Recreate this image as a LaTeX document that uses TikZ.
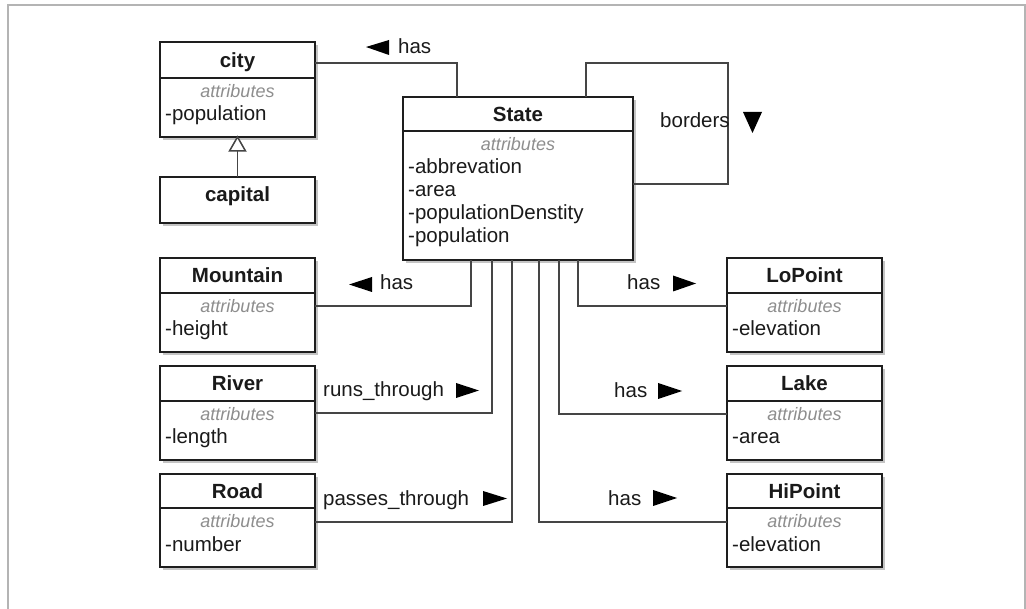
\documentclass[tikz,border=0pt]{standalone}
\usepackage{fontspec}
\setmainfont{Liberation Sans}

\definecolor{boxline}{HTML}{1E1E1E}
\definecolor{connline}{HTML}{454545}
\definecolor{attrgray}{HTML}{8E8E8E}
\definecolor{framegray}{HTML}{B4B4B4}
\definecolor{shadowgray}{HTML}{C4C4C4}
\definecolor{inktext}{HTML}{1A1A1A}

\tikzset{
  classbox/.style={draw=boxline, line width=2pt, fill=white, inner sep=0pt, outer sep=0pt, anchor=north west},
  divider/.style={draw=boxline, line width=1.6pt},
  boxshadow/.style={fill=shadowgray},
  classname/.style={font=\fontsize{20.5}{23}\selectfont\bfseries, text=inktext, inner sep=0pt, anchor=base},
  stereo/.style={font=\fontsize{18}{21}\selectfont\itshape, text=attrgray, inner sep=0pt, anchor=base},
  attr/.style={font=\fontsize{20.5}{23}\selectfont, text=inktext, inner sep=0pt, anchor=base west},
  assoc/.style={draw=connline, line width=1.5pt},
  genhead/.style={draw=connline, line width=1.5pt, fill=white, line join=miter},
  rolelabel/.style={font=\fontsize{20.5}{23}\selectfont, text=inktext, inner sep=0pt, anchor=base west},
  navmark/.style={fill=black},
}

% class box: name, left, top, right, divider y, bottom, title, attribute list
\newcommand\umlclass[8]{%
  \fill[boxshadow] (#2+3,#3+3) rectangle (#4+3,#6+3);
  \node[classbox, minimum width=#4pt-#2pt, minimum height=#6pt-#3pt] (#1) at (#2,#3) {};
  \draw[divider] (#1.west |- 0,#5) -- (#1.east |- 0,#5);
  \node[classname] (#1-name) at ({(#2+#4)/2}, {(#3+#5)/2+7.5}) {#7};
  \node[stereo] (#1-stereo) at ({(#2+#4)/2}, #5+20) {attributes};
  \foreach \a [count=\i] in {#8} {\node[attr] (#1-attr\i) at (#2+5, #5+20+23*\i) {\a};}
}

\begin{document}
\begin{tikzpicture}[x=1pt, y=-1pt]
  \useasboundingbox (0,0) rectangle (1026,609);
  \fill[white] (0,0) rectangle (1026,609);
  \draw[framegray, line width=1.5pt] (8,609) -- (8,5) -- (1025,5) -- (1025,609);

  % classes
  \umlclass{city}{160}{42}{315}{78}{137}{city}{-population}
  \fill[boxshadow] (163,180) rectangle (318,226);
  \node[classbox, minimum width=155pt, minimum height=46pt] (capital) at (160,177) {};
  \node[classname] (capital-name) at (237.5,202) {capital};

  \umlclass{state}{403}{97}{633}{131}{260}{State}{-abbrevation,-area,-populationDenstity,-population}

  \umlclass{mountain}{160}{258}{315}{293}{352}{Mountain}{-height}
  \umlclass{river}{160}{366}{315}{401}{460}{River}{-length}
  \umlclass{road}{160}{474}{315}{508}{567}{Road}{-number}

  \umlclass{lopoint}{727}{258}{882}{293}{352}{LoPoint}{-elevation}
  \umlclass{lake}{727}{366}{882}{401}{460}{Lake}{-area}
  \umlclass{hipoint}{727}{474}{882}{508}{567}{HiPoint}{-elevation}

  % generalization capital -> city (hollow triangle head)
  \draw[assoc, shorten >=14pt] (capital.north) -- (city.south);
  \draw[genhead] (city.south) -- ++(-8,14) -- ++(16,0) -- cycle;

  % associations
  \draw[assoc] (city.east |- 0,63) -| (state.north -| 457,0);
  \draw[assoc] (state.north -| 586,0) |- (728,63) |- (state.east |- 0,184);
  \draw[assoc] (state.south -| 471,0) |- (mountain.east |- 0,306);
  \draw[assoc] (state.south -| 492,0) |- (river.east |- 0,413);
  \draw[assoc] (state.south -| 512,0) |- (road.east |- 0,522);
  \draw[assoc] (state.south -| 578,0) |- (lopoint.west |- 0,306);
  \draw[assoc] (state.south -| 559,0) |- (lake.west |- 0,414);
  \draw[assoc] (state.south -| 539,0) |- (hipoint.west |- 0,522);

  % association names with reading direction
  \node[rolelabel] (has-city) at (398,54) {has};
  \fill[navmark] (366,47) -- (389,40) -- (389,55) -- cycle;

  \node[rolelabel] (borders) at (660,128) {borders};
  \fill[navmark] (743,112) -- (762,112) -- (752.5,133) -- cycle;

  \node[rolelabel] (has-mountain) at (380,290) {has};
  \fill[navmark] (349,284.5) -- (372,277) -- (372,292) -- cycle;

  \node[rolelabel] (runs) at (323,397) {runs\_through};
  \fill[navmark] (456,383) -- (456,398) -- (479,390.5) -- cycle;

  \node[rolelabel] (passes) at (323,505) {passes\_through};
  \fill[navmark] (483,491) -- (483,506) -- (507,498.5) -- cycle;

  \node[rolelabel] (has-lopoint) at (627,290) {has};
  \fill[navmark] (673,275.5) -- (673,291.5) -- (696,283.5) -- cycle;

  \node[rolelabel] (has-lake) at (614,398) {has};
  \fill[navmark] (658,383) -- (658,399) -- (682,391) -- cycle;

  \node[rolelabel] (has-hipoint) at (608,505) {has};
  \fill[navmark] (653,490) -- (653,506) -- (677,498) -- cycle;
\end{tikzpicture}
\end{document}
